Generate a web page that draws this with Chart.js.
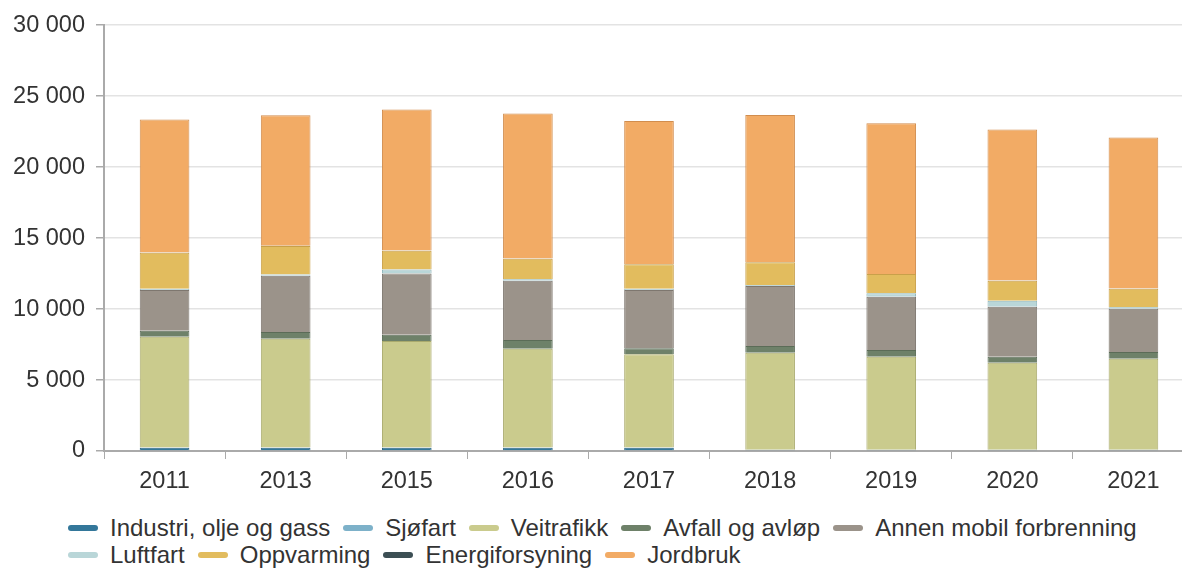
<!DOCTYPE html>
<html>
<head>
<meta charset="utf-8">
<script src="https://cdn.jsdelivr.net/npm/chart.js@4"></script>
<style>
    body { margin: 0; overflow: hidden; background: #fff; font-family: "Liberation Sans", Arial, sans-serif; }
    #chartArea { position: absolute; left: 0; top: 0; width: 1194px; height: 496px; }
    #legend { position: absolute; left: 68px; top: 514px; width: 1100px; display: flex; flex-wrap: wrap; font-size: 24px; line-height: 27px; color: #333; }
    .item { display: flex; align-items: center; margin-right: 13px; white-space: nowrap; }
    .swatch { width: 30px; height: 6px; border-radius: 3px; margin-right: 12px; }
</style>
</head>
<body>
<div id="chartArea"><canvas id="emChart"></canvas></div>
<div id="legend"></div>
<script>
// årstall
const years = ['2011', '2013', '2015', '2016', '2017', '2018', '2019', '2020', '2021'];

// utslipp per kilde
const industri     = [230, 230, 230, 230, 230, 70, 70, 70, 70];
const sjofart      = [20, 20, 20, 20, 20, 20, 20, 20, 20];
const veitrafikk   = [7800, 7660, 7500, 6950, 6560, 6830, 6550, 6130, 6410];
const avfall       = [420, 470, 440, 620, 420, 470, 470, 420, 470];
const annenMobil   = [2870, 3970, 4320, 4170, 4110, 4230, 3760, 3520, 3050];
const luftfart     = [80, 80, 280, 100, 80, 80, 240, 430, 100];
const oppvarming   = [2540, 2010, 1320, 1450, 1730, 1590, 1350, 1400, 1310];
const energi       = [15, 15, 15, 15, 15, 15, 15, 15, 15];
const jordbruk     = [9380, 9200, 9935, 10225, 10075, 10355, 10605, 10645, 10645];

const yTicks = [0, 5000, 10000, 15000, 20000, 25000, 30000];

const series = [
    { label: 'Industri, olje og gass', data: industri, color: '#33779a', border: '#2a6482' },
    { label: 'Sjøfart', data: sjofart, color: '#7db1c9', border: '#6a9cb3' },
    { label: 'Veitrafikk', data: veitrafikk, color: '#cacb8d', border: '#a9aa6d' },
    { label: 'Avfall og avløp', data: avfall, color: '#6e8169', border: '#5b6c57' },
    { label: 'Annen mobil forbrenning', data: annenMobil, color: '#9b938a', border: '#7e776f' },
    { label: 'Luftfart', data: luftfart, color: '#b9d6d8', border: '#8fb6bb' },
    { label: 'Oppvarming', data: oppvarming, color: '#e2bc5e', border: '#c9a04a' },
    { label: 'Energiforsyning', data: energi, color: '#3c4f54', border: '#324247' },
    { label: 'Jordbruk', data: jordbruk, color: '#f2ab65', border: '#d18d4e' }
];

function fmt(v) {//tusenskille med mellomrom
    return String(v).replace(/\B(?=(\d{3})+(?!\d))/g, ' ');
}

const tickFont = { family: '"Liberation Sans", Arial, sans-serif', size: 23.5 };

const chart = new Chart(document.getElementById('emChart'), {
    type: 'bar',
    data: {
        labels: years,
        datasets: series.map(s => ({
            label: s.label,
            data: s.data,
            backgroundColor: s.color,
            borderColor: s.border,
            borderWidth: 1,
            barPercentage: 0.41,
            categoryPercentage: 1
        }))
    },
    options: {
        responsive: true,
        maintainAspectRatio: false,
        animation: false,
        layout: { padding: { top: 25, left: 0, right: 0, bottom: 0 } },
        plugins: {
            legend: { display: false },
            tooltip: { enabled: false }
        },
        scales: {
            x: {
                stacked: true,
                afterFit: s => { s.height = 45; },
                grid: { offset: true, drawOnChartArea: false, tickLength: 8, tickColor: '#aaa' },
                border: { color: '#aaa', width: 2 },
                ticks: { color: '#333', font: tickFont, padding: 8 }
            },
            y: {
                stacked: true,
                min: 0,
                max: 30000,
                afterFit: s => { s.width = 104; },
                afterBuildTicks: s => { s.ticks = yTicks.map(v => ({ value: v })); },
                grid: { color: '#e3e3e3', lineWidth: 1.5, tickLength: 8, tickColor: '#aaa' },
                border: { color: '#aaa', width: 2 },
                ticks: { color: '#333', font: tickFont, padding: 11, callback: v => fmt(v) }
            }
        }
    }
});

// egen forklaring under grafen
const legendBox = document.getElementById('legend');
chart.data.datasets.forEach(ds => {
    const item = document.createElement('div');
    item.className = 'item';
    item.innerHTML = `<span class="swatch" style="background:${ds.backgroundColor}"></span><span>${ds.label}</span>`;
    legendBox.appendChild(item);
});
</script>
</body>
</html>
